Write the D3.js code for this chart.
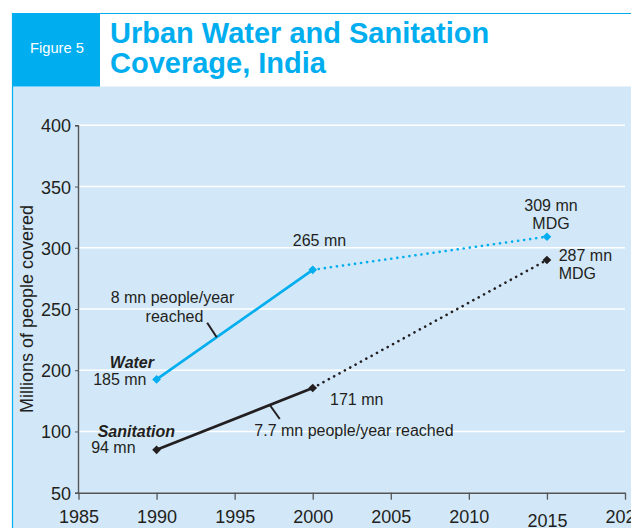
<!DOCTYPE html>
<html>
<head>
<meta charset="utf-8">
<script src="https://cdn.jsdelivr.net/npm/d3@7/dist/d3.min.js"></script>
<style>
html,body{margin:0;padding:0;background:#fff;}
svg{display:block;font-family:"Liberation Sans",Arial,Helvetica,sans-serif;}
</style>
</head>
<body>
<script>
// ---- data ----
const years = [1990, 2000, 2015];
const water = [185, 282, 309];
const sanitation = [85, 171, 290];
const waterLabels = ["185 mn", "265 mn", "309 mn"];
const sanitationLabels = ["94 mn", "171 mn", "287 mn"];
const yTickValues = [50, 100, 200, 250, 300, 350, 400];
const xTickValues = [1985, 1990, 1995, 2000, 2005, 2010, 2015, 2020];
const titleLines = ["Urban Water and Sanitation", "Coverage, India"];
const figureLabel = "Figure 5";
const yAxisTitle = "Millions of people covered";

const W = 631, H = 528;
const BLUE = "#00aeef", DARK = "#231f20", PANEL = "#d2e8f9";

const svg = d3.select("body").append("svg").attr("width", W).attr("height", H);

// header
svg.append("rect").attr("x", 0).attr("y", 0).attr("width", W).attr("height", H).attr("fill", "#fff");
svg.append("rect").attr("x", 12).attr("y", 86.5).attr("width", W - 12).attr("height", H - 86.5).attr("fill", PANEL);
svg.append("rect").attr("x", 12).attr("y", 13).attr("width", 88).attr("height", 73.5).attr("fill", BLUE);
svg.append("line").attr("x1", 12).attr("x2", W).attr("y1", 13.5).attr("y2", 13.5).attr("stroke", BLUE).attr("stroke-width", 1.2);
svg.append("line").attr("x1", 12.5).attr("x2", 12.5).attr("y1", 13).attr("y2", H).attr("stroke", BLUE).attr("stroke-width", 1.2);
svg.append("text").attr("x", 30).attr("y", 53.3).attr("fill", "#fff").attr("font-size", 14.7).text(figureLabel);
svg.selectAll("text.title").data(titleLines).join("text").attr("class", "title")
  .attr("x", 110).attr("y", (d, i) => 43.3 + i * 30)
  .attr("fill", BLUE).attr("font-size", 29).attr("font-weight", "bold").text(d => d);

// scales
const x = d3.scaleLinear().domain([1985, 2020]).range([78.5, 625]);
const pos = d3.scaleLinear().domain([0, yTickValues.length - 1]).range([492.7, 125.3]);
const y = d3.scaleLinear().domain(yTickValues).range(yTickValues.map((d, i) => pos(i)));

// gridlines
svg.append("g").selectAll("line").data(yTickValues.slice(1)).join("line")
  .attr("x1", 78).attr("x2", 625).attr("y1", d => y(d)).attr("y2", d => y(d))
  .attr("stroke", "#fff").attr("stroke-width", 1.6);

// y axis
const yAxis = svg.append("g").attr("transform", "translate(78,0)")
  .call(d3.axisLeft(y).tickValues(yTickValues).tickSize(3).tickPadding(4));
yAxis.select(".domain").attr("stroke", "#555").attr("stroke-width", 1.4);
yAxis.selectAll(".tick line").attr("stroke", "#555");
yAxis.selectAll(".tick text").attr("font-size", 18).attr("fill", DARK)
  .attr("font-family", "Liberation Sans, Arial, sans-serif").attr("dy", "0.36em");

// x axis
const xAxis = svg.append("g").attr("transform", "translate(0,492.7)")
  .call(d3.axisBottom(x).tickValues(xTickValues).tickFormat(d3.format("d")).tickSize(7).tickPadding(4).tickSizeOuter(0));
xAxis.select(".domain").attr("stroke", "#555").attr("stroke-width", 1.4);
xAxis.selectAll(".tick line").attr("stroke", "#555").attr("stroke-width", 1.3);
xAxis.selectAll(".tick text").attr("font-size", 18).attr("fill", DARK)
  .attr("font-family", "Liberation Sans, Arial, sans-serif")
  .attr("dy", null).attr("y", d => d === 2015 ? 34 : 30.6);

// y axis title
svg.append("text").attr("transform", "translate(33,309) rotate(-90)")
  .attr("text-anchor", "middle").attr("font-size", 18).attr("fill", DARK).text(yAxisTitle);

// series
function drawSeries(vals, color) {
  const pts = years.map((yr, i) => [x(yr), y(vals[i])]);
  const line = d3.line();
  svg.append("path").attr("d", line(pts.slice(0, 2))).attr("fill", "none")
    .attr("stroke", color).attr("stroke-width", 2.7);
  svg.append("path").attr("d", line(pts.slice(1, 3))).attr("fill", "none")
    .attr("stroke", color).attr("stroke-width", 2.6)
    .attr("stroke-linecap", "round").attr("stroke-dasharray", "0.1 6");
  svg.append("g").selectAll("path").data(pts).join("path")
    .attr("d", d3.symbol().type(d3.symbolSquare).size(38))
    .attr("transform", d => `translate(${d[0]},${d[1]}) rotate(45)`)
    .attr("fill", color);
  return pts;
}
const wp = drawSeries(water, BLUE);
const sp = drawSeries(sanitation, DARK);

// callout tick marks
function callout(pts, t, dx, dy) {
  const px = pts[0][0] + (pts[1][0] - pts[0][0]) * t;
  const py = pts[0][1] + (pts[1][1] - pts[0][1]) * t;
  svg.append("line").attr("x1", px).attr("y1", py).attr("x2", px + dx).attr("y2", py + dy)
    .attr("stroke", DARK).attr("stroke-width", 2);
}
callout(wp, 0.385, -9.5, -14.5);
callout(sp, 0.725, 10, 14);

// annotations
const ann = [
  {t: "8 mn people/year", x: 172.5, y: 303.3, a: "middle"},
  {t: "reached", x: 174.5, y: 321.7, a: "middle"},
  {t: "Water", x: 154, y: 368.3, a: "end", b: true},
  {t: waterLabels[0], x: 146.5, y: 385, a: "end"},
  {t: waterLabels[1], x: 319.5, y: 246, a: "middle"},
  {t: waterLabels[2], x: 551, y: 210.7, a: "middle"},
  {t: "MDG", x: 551, y: 229.3, a: "middle"},
  {t: sanitationLabels[2], x: 558.7, y: 261, a: "start"},
  {t: "MDG", x: 558.7, y: 279.3, a: "start"},
  {t: sanitationLabels[1], x: 330, y: 404.5, a: "start"},
  {t: "Sanitation", x: 175, y: 437.3, a: "end", b: true},
  {t: sanitationLabels[0], x: 135.6, y: 452.5, a: "end"},
  {t: "7.7 mn people/year reached", x: 254.3, y: 436.3, a: "start"}
];
svg.append("g").selectAll("text").data(ann).join("text")
  .attr("x", d => d.x).attr("y", d => d.y).attr("text-anchor", d => d.a)
  .attr("font-size", 16).attr("fill", DARK)
  .attr("font-weight", d => d.b ? "bold" : null)
  .attr("font-style", d => d.b ? "italic" : null)
  .text(d => d.t);
</script>
</body>
</html>
